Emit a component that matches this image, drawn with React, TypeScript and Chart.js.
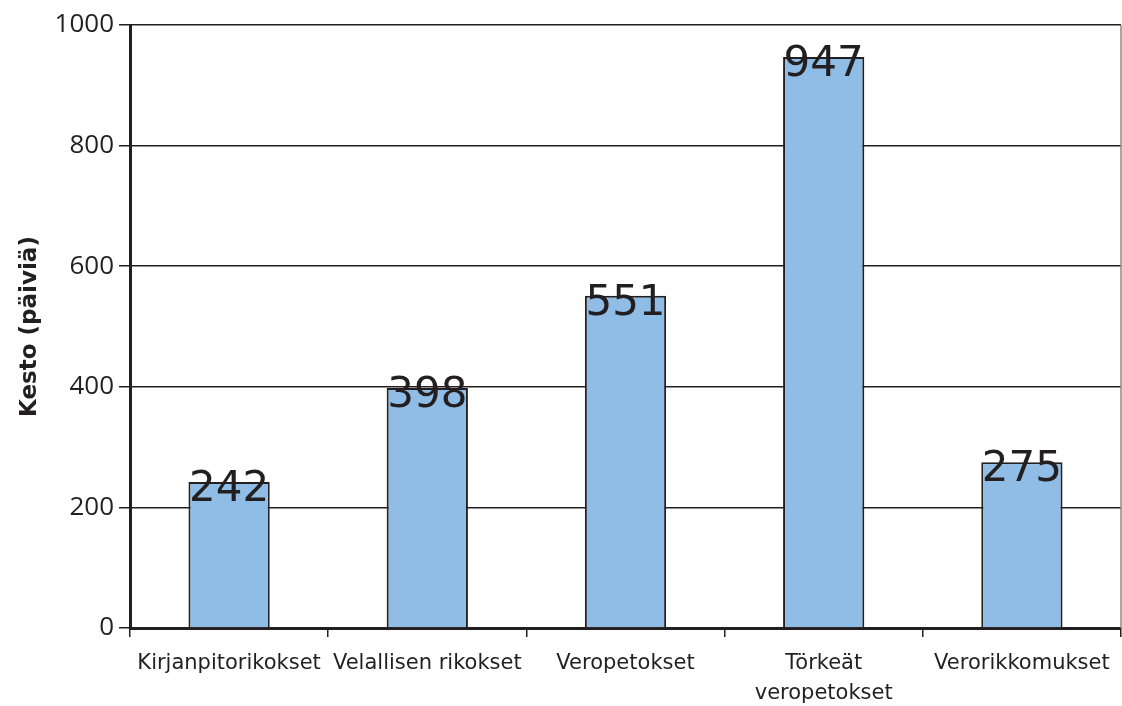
import React, { useEffect, useRef } from "react";
import { Chart, registerables } from "chart.js";

Chart.register(...registerables);

const categories: (string | string[])[] = [
  "Kirjanpitorikokset",
  "Velallisen rikokset",
  "Veropetokset",
  ["Törkeät", "veropetokset"],
  "Verorikkomukset",
];
const durations = [242, 398, 551, 947, 275];
const yTicks = [0, 200, 400, 600, 800, 1000];
const yTitle = "Kesto (päiviä)";

const INK = "#231f20";

const valueLabels = {
  id: "valueLabels",
  afterDatasetsDraw(chart: any) {
    const { ctx } = chart;
    const meta = chart.getDatasetMeta(0);
    ctx.save();
    ctx.font = "42px 'DejaVu Sans'";
    ctx.fillStyle = INK;
    ctx.textAlign = "center";
    ctx.textBaseline = "alphabetic";
    meta.data.forEach((bar: any, i: number) => {
      ctx.fillText(String(durations[i]), bar.x, bar.y + 19);
    });
    ctx.restore();
  },
};

const rightBorder = {
  id: "rightBorder",
  afterDraw(chart: any) {
    const { ctx, chartArea } = chart;
    ctx.save();
    ctx.strokeStyle = "#8a8a8a";
    ctx.lineWidth = 1.5;
    ctx.beginPath();
    ctx.moveTo(chartArea.right, chartArea.top);
    ctx.lineTo(chartArea.right, chartArea.bottom);
    ctx.stroke();
    ctx.restore();
  },
};

export default function App() {
  const ref = useRef<HTMLCanvasElement | null>(null);
  useEffect(() => {
    if (!ref.current) return;
    const chart = new Chart(ref.current, {
      type: "bar",
      data: {
        labels: categories,
        datasets: [
          {
            data: durations,
            backgroundColor: "#8fbde6",
            borderColor: INK,
            borderWidth: 2,
            barPercentage: 0.41,
            categoryPercentage: 1,
          },
        ],
      },
      options: {
        animation: false,
        responsive: false,
        maintainAspectRatio: false,
        layout: { padding: { top: 25, right: 1, left: 0, bottom: 0 } },
        plugins: {
          legend: { display: false },
          tooltip: { enabled: false },
        },
        scales: {
          x: {
            offset: true,
            grid: {
              offset: true,
              drawOnChartArea: false,
              drawTicks: true,
              tickLength: 9,
              color: INK,
              lineWidth: 1.5,
            },
            border: { color: INK, width: 3 },
            ticks: {
              color: INK,
              font: { family: "'DejaVu Sans'", size: 21, lineHeight: 1.43 },
              padding: 12,
              maxRotation: 0,
              minRotation: 0,
              autoSkip: false,
            },
            afterFit(scale: any) {
              scale.height = 78;
            },
          },
          y: {
            min: 0,
            max: 1000,
            afterBuildTicks(scale: any) {
              scale.ticks = yTicks.map((v) => ({ value: v }));
            },
            grid: {
              color: INK,
              lineWidth: 1.5,
              tickLength: 11,
            },
            border: { color: INK, width: 3 },
            ticks: {
              color: INK,
              font: { family: "'Open Sans'", size: 26 },
              padding: 5,
              callback: (v: any) => String(v),
            },
            title: {
              display: true,
              text: yTitle,
              color: INK,
              font: { family: "'DejaVu Sans'", size: 23, weight: "bold" },
              padding: { top: 16, bottom: 0 },
            },
            afterFit(scale: any) {
              scale.width = 130;
            },
          },
        },
      },
      plugins: [valueLabels, rightBorder],
    });
    return () => chart.destroy();
  }, []);
  return (
    <div style={{ position: "fixed", left: 0, top: 0, width: 1122, height: 706, background: "#fff" }}>
      <canvas ref={ref} width={1122} height={706} style={{ width: 1122, height: 706 }} />
    </div>
  );
}
